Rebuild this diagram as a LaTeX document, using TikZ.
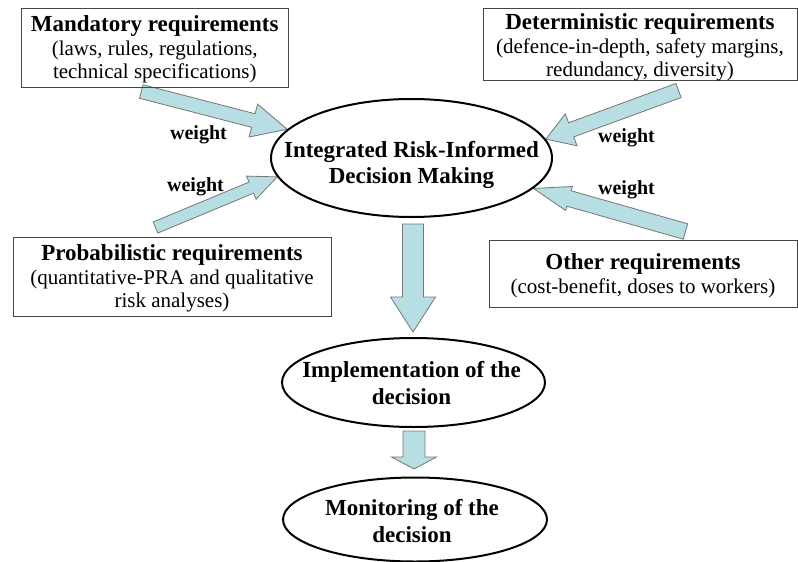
\documentclass[tikz,border=0pt]{standalone}
\usepackage{fontspec}
\setmainfont{Liberation Serif}
\usetikzlibrary{shapes.geometric,calc}
\pgfdeclarelayer{background}
\pgfsetlayers{background,main}
\definecolor{arrowfill}{RGB}{183,222,226}
\definecolor{arrowline}{RGB}{118,118,118}
\definecolor{boxline}{RGB}{70,70,70}
\newcommand\titlefont{\fontsize{23}{24}\selectfont\bfseries}
\newcommand\subfont{\fontsize{21}{23.5}\selectfont}
% block arrow: #1 tail, #2 tip, #3 half shaft width, #4 half head width, #5 head length
\newcommand\fatarrow[5]{%
  \path (#1) coordinate (fa-t) (#2) coordinate (fa-h);
  \coordinate (fa-b) at ($(fa-h)!#5!(fa-t)$);
  \draw[blockarrow] ($(fa-t)!#3!90:(fa-h)$) -- ($(fa-b)!#3!90:(fa-h)$)
    -- ($(fa-b)!#4!90:(fa-h)$) -- (fa-h) -- ($(fa-b)!#4!-90:(fa-h)$)
    -- ($(fa-b)!#3!-90:(fa-h)$) -- ($(fa-t)!#3!-90:(fa-h)$) -- cycle;}
\tikzset{
  reqbox/.style={draw=boxline, line width=1pt, rectangle, inner sep=0pt},
  bubble/.style={draw=black, line width=2pt, ellipse, inner sep=0pt},
  boxtext/.style={align=center, font=\subfont, inner sep=0pt},
  bubbletext/.style={align=center, inner sep=0pt, font=\fontsize{23}{27}\selectfont\bfseries},
  weightlabel/.style={font=\fontsize{20}{24}\selectfont\bfseries, anchor=base, inner sep=0pt},
  blockarrow/.style={fill=arrowfill, draw=arrowline, line width=0.8pt, line join=miter},
}
\begin{document}
\begin{tikzpicture}[x=1pt,y=-1pt]
\useasboundingbox (0,0) rectangle (798,562);

% requirement boxes
\node[reqbox, minimum width=266.5, minimum height=78.5] (mand) at (154.75,47.75) {};
\node[boxtext] (mandtext) at ($(mand.center)+(0,2)$)
  {{\titlefont Mandatory requirements}\\(laws, rules, regulations,\\technical specifications)};

\node[reqbox, minimum width=314, minimum height=72] (det) at (640,44) {};
\node[boxtext] (dettext) at ($(det.center)+(0,3.5)$)
  {{\titlefont Deterministic requirements}\\(defence-in-depth, safety margins,\\redundancy, diversity)};

\node[reqbox, minimum width=318, minimum height=79] (prob) at (172,276.5) {};
\node[boxtext] (probtext) at ($(prob.center)+(0,1.8)$)
  {{\titlefont Probabilistic requirements}\\(quantitative-PRA and qualitative\\risk analyses)};

\node[reqbox, minimum width=308, minimum height=67] (other) at (643,273.5) {};
\node[boxtext] (othertext) at ($(other.center)+(0,2.3)$)
  {{\titlefont Other requirements}\\(cost-benefit, doses to workers)};

% decision stages
\node[bubble, minimum width=281, minimum height=118] (main) at (411.5,158) {};
\node[bubbletext, font=\fontsize{23}{26}\selectfont\bfseries] (maintext) at ($(main.center)+(0,6.7)$)
  {Integrated Risk-Informed\\Decision Making};

\node[bubble, minimum width=263, minimum height=89] (impl) at (413.5,382.5) {};
\node[bubbletext] (impltext) at ($(impl.center)+(-2,0.5)$)
  {Implementation of the\\decision};

\node[bubble, minimum width=264, minimum height=84] (mon) at (415,519.5) {};
\node[bubbletext] (montext) at ($(mon.center)+(-3,1.5)$)
  {Monitoring of the\\decision};

% weight labels
\node[weightlabel] (w1) at (198.5,139) {weight};
\node[weightlabel] (w2) at (195.5,191) {weight};
\node[weightlabel] (w3) at (626.5,142) {weight};
\node[weightlabel] (w4) at (626.5,194) {weight};

% arrows
\begin{pgfonlayer}{background}
  \coordinate (a1t) at ($(mand.south)+(-13.5,4)$);
  \fatarrow{a1t}{main.167.3}{7pt}{17pt}{35pt}
  \coordinate (a2t) at ($(prob.north)+(-16.5,-9)$);
  \fatarrow{a2t}{main.188.1}{6pt}{12.5pt}{28pt}
  \coordinate (a3t) at ($(det.south)+(38.5,10)$);
  \fatarrow{a3t}{main.8.8}{7.5pt}{17pt}{27pt}
  \coordinate (a4t) at ($(other.north)+(42.5,-8)$);
  \fatarrow{a4t}{main.346.8}{8pt}{12.5pt}{37pt}

  \coordinate (d1t) at ($(main.south)+(1.5,6)$);
  \coordinate (d1h) at ($(impl.north)+(-0.5,-5)$);
  \fatarrow{d1t}{d1h}{10.5pt}{22.5pt}{35pt}
  \coordinate (d2t) at ($(impl.south)+(0.5,3)$);
  \coordinate (d2h) at ($(mon.north)+(-1,-7.5)$);
  \fatarrow{d2t}{d2h}{11pt}{22.5pt}{12pt}
\end{pgfonlayer}
\end{tikzpicture}
\end{document}
